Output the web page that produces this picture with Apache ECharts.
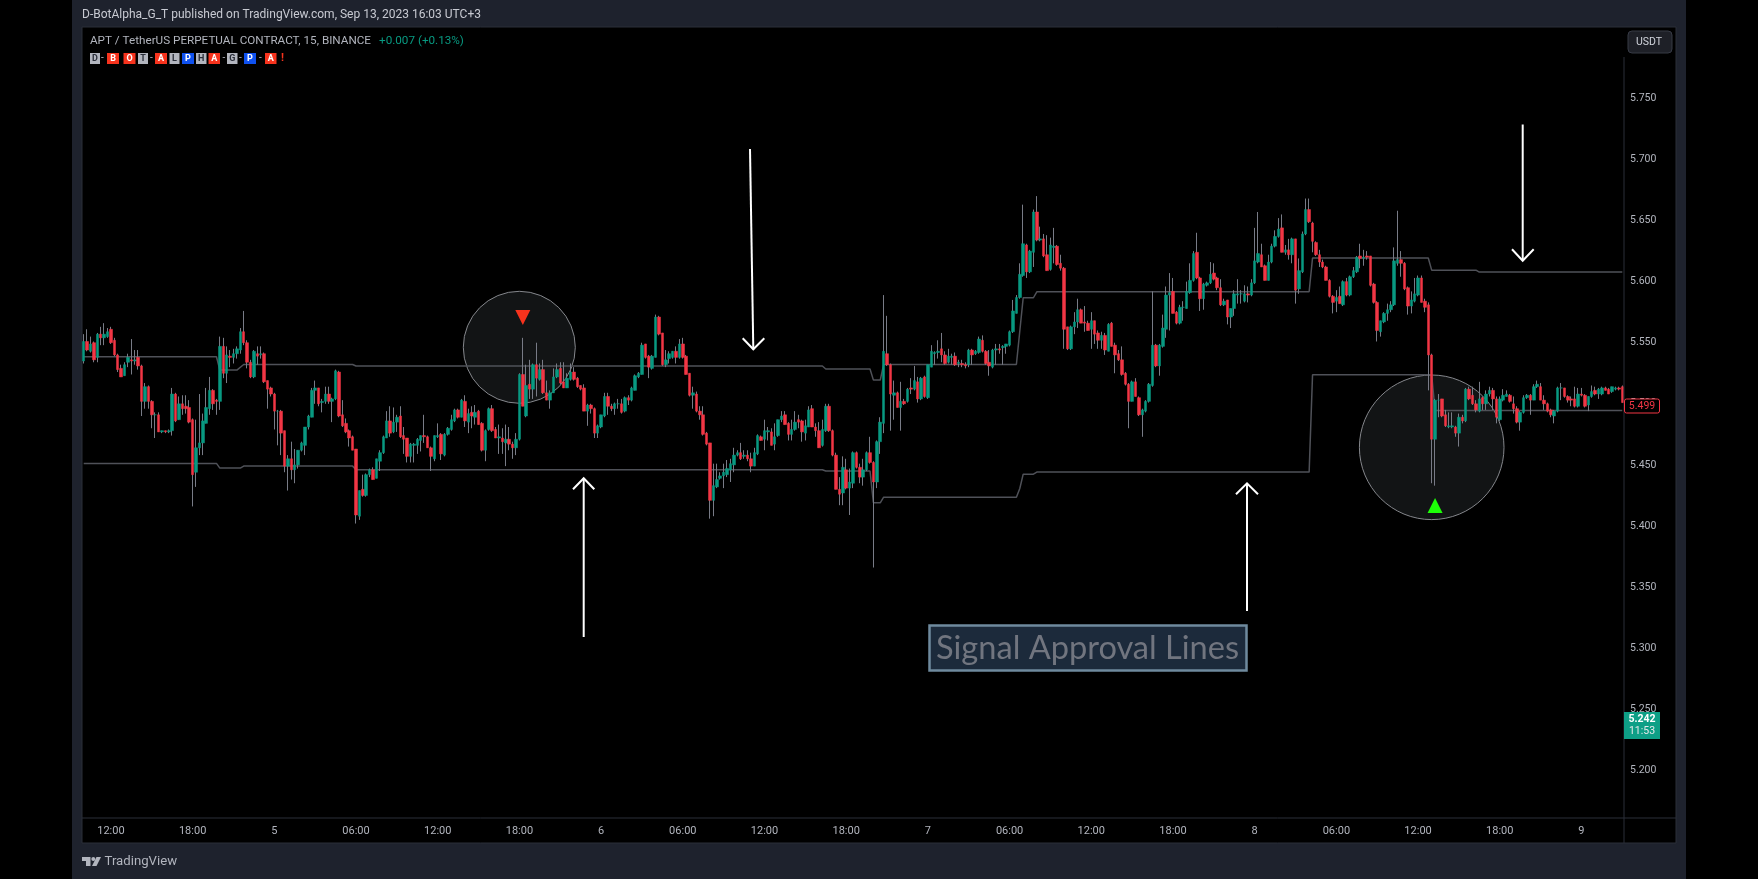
<!DOCTYPE html>
<html><head><meta charset="utf-8">
<style>html,body{margin:0;padding:0;background:#000;width:1758px;height:879px;overflow:hidden}#c{width:1758px;height:879px}</style>
<script src="https://cdn.jsdelivr.net/npm/echarts@6/dist/echarts.min.js"></script>
</head><body><div id="c"></div>
<script>
const direction="GRGRGRGGRR"+"RRGGRGRRGR"+"RGRGRGGRGR"+"RRRGGGGGRR"+"GRGRGGGRRR"+"GRGRRRRGRR"+"GRGGGGGGGR"+"GGRGGRRRRR"+"RGRGGRGGGG"+"RGGRRRGGGG"+
"RRRGGRGGGG"+"RGRGRGRRGG"+"RRGRGRRGGR"+"GRGRGRRGGG"+"RRGGRRRRGR"+"RGGGRRGGRG"+"RGGGGRRGGR"+"RGGGRGRRRG"+"RRRRRGGGGG"+"GGGRGRRGGR"+
"GGRGGGRRGG"+"RRGGRRRGGR"+"RRRGRGGRRG"+"GRRGGGRRGR"+"GRGRGRGRGG"+"GGRRGGRGRR"+"GRGGRRRGGR"+"GGGGGGGRGG"+"RGRRGGRRRR"+"GGGRRRGRRG"+
"RGRRRRRRGR"+"RGGGGRGGGG"+"RRGGGGGRRG"+"GGRRRGRGGG"+"RGRGGGRRGG"+"GGRGRGRGGG"+"RRRRRRRRGR"+"GRGGGRGRRR"+"RGGGGGGRRR"+"GGGRRRRGGR"+
"RGGRGRGRRR"+"GRGGRRGGGR"+"RRGGGRGGRR"+"RRGGGRRRRG"+"RRGGRGGRRG"+"GRR";
const bodyTop=[
5.551,5.551,5.549,5.550,5.557,5.557,5.557,5.559,5.561,5.552,
5.540,5.529,5.532,5.538,5.536,5.536,5.538,5.531,5.514,5.514,
5.502,5.491,5.491,5.478,5.478,5.478,5.508,5.508,5.500,5.500,
5.498,5.497,5.487,5.464,5.468,5.486,5.497,5.511,5.511,5.503,
5.547,5.547,5.540,5.539,5.541,5.545,5.559,5.559,5.550,5.534,
5.543,5.541,5.541,5.541,5.519,5.513,5.508,5.494,5.494,5.478,
5.455,5.455,5.450,5.462,5.468,5.481,5.490,5.511,5.513,5.513,
5.502,5.508,5.508,5.504,5.527,5.526,5.491,5.484,5.478,5.473,
5.463,5.429,5.430,5.442,5.446,5.446,5.455,5.460,5.473,5.486,
5.486,5.485,5.489,5.490,5.474,5.472,5.467,5.467,5.471,5.474,
5.474,5.473,5.464,5.474,5.474,5.475,5.475,5.480,5.487,5.495,
5.495,5.503,5.502,5.492,5.493,5.493,5.494,5.484,5.478,5.496,
5.496,5.479,5.473,5.472,5.471,5.471,5.467,5.471,5.524,5.524,
5.515,5.516,5.532,5.532,5.528,5.528,5.509,5.509,5.522,5.528,
5.529,5.518,5.521,5.526,5.526,5.521,5.515,5.513,5.499,5.499,
5.496,5.482,5.491,5.506,5.506,5.498,5.500,5.500,5.500,5.505,
5.505,5.513,5.523,5.525,5.548,5.549,5.539,5.539,5.571,5.571,
5.558,5.536,5.541,5.543,5.543,5.549,5.549,5.539,5.525,5.509,
5.508,5.494,5.491,5.476,5.468,5.433,5.438,5.441,5.444,5.447,
5.451,5.458,5.460,5.460,5.458,5.458,5.455,5.460,5.474,5.473,
5.478,5.478,5.477,5.473,5.487,5.490,5.491,5.484,5.479,5.485,
5.487,5.486,5.482,5.495,5.496,5.481,5.478,5.479,5.498,5.498,
5.478,5.458,5.430,5.448,5.446,5.436,5.460,5.460,5.448,5.446,
5.460,5.460,5.452,5.469,5.485,5.543,5.541,5.532,5.509,5.509,
5.502,5.502,5.512,5.513,5.519,5.518,5.521,5.522,5.532,5.543,
5.542,5.543,5.545,5.540,5.539,5.539,5.539,5.534,5.533,5.532,
5.544,5.544,5.543,5.553,5.552,5.543,5.534,5.544,5.545,5.545,
5.547,5.549,5.559,5.576,5.587,5.606,5.631,5.630,5.625,5.657,
5.657,5.635,5.635,5.622,5.630,5.629,5.629,5.615,5.611,5.563,
5.563,5.567,5.577,5.577,5.567,5.566,5.568,5.568,5.558,5.556,
5.556,5.565,5.566,5.548,5.541,5.536,5.525,5.516,5.518,5.518,
5.505,5.495,5.502,5.516,5.548,5.548,5.548,5.562,5.589,5.591,
5.592,5.575,5.579,5.579,5.592,5.601,5.623,5.624,5.603,5.598,
5.599,5.606,5.607,5.603,5.595,5.584,5.585,5.578,5.590,5.590,
5.590,5.590,5.590,5.599,5.617,5.623,5.622,5.613,5.616,5.629,
5.637,5.643,5.644,5.626,5.626,5.635,5.635,5.609,5.639,5.659,
5.659,5.648,5.632,5.622,5.616,5.612,5.601,5.588,5.587,5.588,
5.600,5.600,5.604,5.609,5.620,5.621,5.620,5.621,5.621,5.598,
5.583,5.568,5.574,5.577,5.581,5.617,5.618,5.618,5.615,5.595,
5.585,5.590,5.603,5.603,5.584,5.581,5.540,5.503,5.503,5.504,
5.491,5.482,5.482,5.481,5.489,5.489,5.512,5.512,5.507,5.500,
5.504,5.505,5.508,5.511,5.511,5.504,5.504,5.507,5.508,5.507,
5.500,5.496,5.493,5.505,5.507,5.507,5.514,5.516,5.514,5.503,
5.500,5.495,5.494,5.513,5.513,5.513,5.506,5.504,5.504,5.508,
5.508,5.507,5.506,5.510,5.511,5.512,5.513,5.513,5.512,5.514,
5.513,5.513,5.514];
const bodyBottom=[
5.535,5.544,5.543,5.536,5.538,5.554,5.554,5.555,5.550,5.540,
5.528,5.522,5.523,5.534,5.535,5.535,5.531,5.502,5.502,5.502,
5.491,5.491,5.477,5.477,5.477,5.477,5.478,5.486,5.487,5.496,
5.496,5.485,5.442,5.444,5.464,5.468,5.484,5.496,5.500,5.502,
5.502,5.525,5.525,5.538,5.538,5.541,5.544,5.550,5.534,5.522,
5.522,5.539,5.540,5.518,5.512,5.508,5.494,5.494,5.476,5.449,
5.449,5.446,5.446,5.450,5.462,5.466,5.481,5.489,5.511,5.500,
5.501,5.502,5.502,5.502,5.504,5.490,5.482,5.477,5.472,5.462,
5.409,5.408,5.425,5.425,5.442,5.438,5.439,5.453,5.460,5.472,
5.476,5.477,5.485,5.473,5.471,5.457,5.457,5.466,5.466,5.470,
5.473,5.464,5.457,5.455,5.473,5.459,5.458,5.475,5.479,5.486,
5.489,5.489,5.486,5.485,5.490,5.489,5.483,5.462,5.462,5.479,
5.478,5.472,5.472,5.469,5.468,5.467,5.464,5.464,5.471,5.498,
5.490,5.512,5.512,5.521,5.520,5.509,5.503,5.503,5.509,5.522,
5.517,5.513,5.513,5.520,5.520,5.514,5.512,5.494,5.494,5.496,
5.476,5.476,5.481,5.490,5.498,5.496,5.496,5.500,5.493,5.494,
5.503,5.503,5.511,5.522,5.524,5.538,5.530,5.529,5.538,5.557,
5.532,5.532,5.537,5.538,5.538,5.538,5.538,5.524,5.507,5.507,
5.494,5.491,5.475,5.467,5.421,5.421,5.432,5.439,5.441,5.442,
5.446,5.450,5.458,5.455,5.457,5.455,5.449,5.449,5.459,5.470,
5.471,5.477,5.466,5.467,5.474,5.487,5.483,5.475,5.475,5.479,
5.485,5.477,5.476,5.481,5.481,5.478,5.464,5.466,5.478,5.478,
5.458,5.430,5.426,5.427,5.431,5.431,5.435,5.448,5.440,5.440,
5.446,5.452,5.436,5.436,5.469,5.484,5.532,5.508,5.507,5.497,
5.497,5.500,5.502,5.512,5.512,5.504,5.504,5.506,5.505,5.530,
5.541,5.542,5.540,5.533,5.534,5.538,5.532,5.533,5.532,5.531,
5.532,5.540,5.541,5.542,5.543,5.533,5.531,5.530,5.544,5.544,
5.546,5.547,5.548,5.559,5.574,5.587,5.605,5.608,5.608,5.624,
5.634,5.634,5.621,5.609,5.610,5.628,5.614,5.611,5.561,5.545,
5.545,5.563,5.567,5.566,5.566,5.560,5.561,5.557,5.552,5.552,
5.544,5.543,5.547,5.540,5.536,5.524,5.516,5.502,5.502,5.506,
5.491,5.491,5.494,5.502,5.515,5.531,5.531,5.547,5.561,5.589,
5.574,5.566,5.566,5.579,5.578,5.591,5.601,5.603,5.586,5.586,
5.597,5.599,5.602,5.595,5.581,5.581,5.571,5.571,5.578,5.589,
5.590,5.584,5.589,5.589,5.599,5.616,5.612,5.601,5.601,5.616,
5.629,5.637,5.624,5.624,5.622,5.622,5.593,5.594,5.608,5.639,
5.649,5.633,5.622,5.616,5.612,5.601,5.588,5.583,5.584,5.582,
5.581,5.589,5.589,5.604,5.608,5.619,5.619,5.620,5.597,5.583,
5.560,5.559,5.567,5.574,5.577,5.581,5.615,5.615,5.594,5.580,
5.580,5.584,5.589,5.583,5.579,5.540,5.471,5.471,5.503,5.490,
5.482,5.481,5.481,5.476,5.476,5.486,5.486,5.504,5.500,5.495,
5.494,5.500,5.500,5.508,5.504,5.489,5.487,5.503,5.506,5.502,
5.496,5.485,5.485,5.493,5.505,5.503,5.503,5.514,5.503,5.500,
5.494,5.491,5.490,5.494,5.513,5.506,5.503,5.503,5.498,5.498,
5.507,5.498,5.499,5.506,5.508,5.508,5.508,5.511,5.508,5.510,
5.512,5.512,5.501];
const highs=[
5.557,5.561,5.555,5.551,5.558,5.563,5.566,5.562,5.563,5.554,
5.541,5.532,5.534,5.541,5.553,5.544,5.544,5.532,5.517,5.515,
5.503,5.493,5.493,5.478,5.478,5.479,5.513,5.509,5.506,5.507,
5.507,5.503,5.488,5.487,5.508,5.492,5.513,5.522,5.512,5.504,
5.555,5.554,5.547,5.544,5.545,5.547,5.562,5.576,5.552,5.536,
5.544,5.547,5.547,5.542,5.519,5.514,5.509,5.495,5.495,5.478,
5.458,5.469,5.463,5.462,5.469,5.481,5.491,5.513,5.519,5.513,
5.504,5.514,5.514,5.505,5.528,5.527,5.503,5.488,5.479,5.474,
5.463,5.429,5.442,5.443,5.447,5.448,5.455,5.462,5.474,5.494,
5.498,5.497,5.491,5.498,5.481,5.472,5.468,5.468,5.472,5.474,
5.491,5.474,5.465,5.474,5.484,5.476,5.476,5.481,5.491,5.496,
5.496,5.504,5.507,5.496,5.498,5.499,5.495,5.485,5.479,5.497,
5.499,5.481,5.483,5.480,5.483,5.481,5.469,5.476,5.525,5.554,
5.532,5.536,5.533,5.550,5.533,5.536,5.519,5.511,5.529,5.533,
5.534,5.534,5.525,5.533,5.530,5.522,5.515,5.516,5.500,5.500,
5.497,5.483,5.491,5.509,5.509,5.500,5.501,5.504,5.504,5.506,
5.507,5.514,5.524,5.526,5.550,5.549,5.540,5.540,5.573,5.572,
5.558,5.544,5.543,5.543,5.547,5.553,5.554,5.540,5.525,5.514,
5.510,5.498,5.498,5.477,5.468,5.451,5.451,5.444,5.451,5.454,
5.455,5.464,5.462,5.468,5.462,5.462,5.460,5.464,5.475,5.474,
5.487,5.481,5.480,5.484,5.487,5.494,5.494,5.485,5.487,5.494,
5.491,5.487,5.487,5.498,5.499,5.484,5.485,5.487,5.500,5.500,
5.479,5.460,5.440,5.457,5.455,5.447,5.461,5.461,5.451,5.455,
5.461,5.473,5.453,5.470,5.489,5.589,5.572,5.533,5.519,5.510,
5.518,5.504,5.513,5.521,5.531,5.522,5.522,5.523,5.532,5.548,
5.543,5.552,5.558,5.543,5.545,5.541,5.542,5.536,5.536,5.534,
5.545,5.545,5.544,5.555,5.556,5.544,5.544,5.545,5.549,5.549,
5.548,5.549,5.560,5.585,5.589,5.615,5.663,5.631,5.626,5.659,
5.670,5.645,5.639,5.638,5.636,5.644,5.630,5.622,5.612,5.563,
5.564,5.575,5.586,5.578,5.580,5.568,5.575,5.568,5.560,5.559,
5.558,5.566,5.567,5.550,5.544,5.547,5.526,5.517,5.519,5.521,
5.506,5.496,5.503,5.517,5.592,5.549,5.549,5.573,5.596,5.607,
5.603,5.576,5.581,5.584,5.600,5.615,5.625,5.640,5.604,5.599,
5.600,5.616,5.615,5.604,5.602,5.586,5.585,5.578,5.593,5.602,
5.593,5.597,5.596,5.602,5.644,5.657,5.631,5.614,5.622,5.631,
5.642,5.652,5.655,5.630,5.635,5.636,5.635,5.619,5.641,5.668,
5.668,5.649,5.633,5.626,5.618,5.613,5.602,5.589,5.593,5.596,
5.601,5.603,5.605,5.612,5.621,5.631,5.626,5.625,5.621,5.599,
5.584,5.568,5.575,5.582,5.584,5.628,5.658,5.625,5.616,5.596,
5.592,5.603,5.605,5.605,5.586,5.583,5.541,5.504,5.508,5.504,
5.495,5.493,5.493,5.482,5.492,5.491,5.513,5.514,5.514,5.503,
5.518,5.506,5.511,5.514,5.513,5.506,5.506,5.512,5.511,5.508,
5.506,5.498,5.494,5.507,5.508,5.508,5.516,5.519,5.517,5.507,
5.501,5.496,5.495,5.514,5.517,5.513,5.507,5.506,5.514,5.513,
5.513,5.508,5.506,5.515,5.514,5.513,5.514,5.514,5.513,5.514,
5.514,5.514,5.515];
const lows=[
5.533,5.543,5.542,5.534,5.534,5.548,5.548,5.554,5.549,5.539,
5.526,5.522,5.523,5.530,5.524,5.532,5.528,5.490,5.496,5.496,
5.480,5.472,5.477,5.476,5.476,5.476,5.474,5.485,5.487,5.491,
5.492,5.484,5.416,5.432,5.458,5.458,5.484,5.491,5.495,5.491,
5.495,5.521,5.517,5.530,5.533,5.537,5.541,5.548,5.529,5.521,
5.521,5.532,5.537,5.517,5.496,5.506,5.479,5.466,5.458,5.444,
5.429,5.438,5.435,5.447,5.461,5.458,5.479,5.489,5.500,5.498,
5.493,5.500,5.500,5.485,5.503,5.489,5.481,5.476,5.465,5.462,
5.402,5.405,5.424,5.424,5.440,5.438,5.439,5.445,5.459,5.472,
5.473,5.476,5.477,5.472,5.459,5.452,5.452,5.452,5.459,5.461,
5.468,5.464,5.445,5.453,5.472,5.454,5.457,5.474,5.478,5.485,
5.488,5.489,5.481,5.476,5.480,5.483,5.483,5.461,5.453,5.478,
5.477,5.472,5.459,5.459,5.449,5.462,5.455,5.458,5.470,5.498,
5.489,5.504,5.504,5.506,5.519,5.508,5.503,5.496,5.509,5.521,
5.516,5.513,5.513,5.519,5.519,5.513,5.511,5.494,5.482,5.492,
5.472,5.472,5.480,5.489,5.491,5.494,5.491,5.496,5.492,5.493,
5.499,5.502,5.511,5.521,5.524,5.537,5.521,5.528,5.538,5.556,
5.531,5.530,5.533,5.537,5.533,5.537,5.537,5.524,5.506,5.496,
5.493,5.487,5.474,5.466,5.406,5.408,5.431,5.438,5.431,5.440,
5.436,5.444,5.457,5.454,5.455,5.453,5.444,5.449,5.458,5.470,
5.462,5.470,5.466,5.462,5.473,5.485,5.483,5.470,5.470,5.478,
5.480,5.469,5.470,5.481,5.481,5.473,5.464,5.465,5.477,5.477,
5.457,5.430,5.417,5.417,5.430,5.409,5.431,5.447,5.435,5.433,
5.445,5.451,5.366,5.431,5.459,5.476,5.531,5.478,5.487,5.497,
5.478,5.499,5.501,5.508,5.511,5.501,5.503,5.505,5.504,5.530,
5.532,5.537,5.534,5.532,5.533,5.532,5.531,5.530,5.530,5.529,
5.530,5.532,5.540,5.541,5.542,5.532,5.523,5.529,5.532,5.541,
5.532,5.541,5.547,5.558,5.574,5.586,5.604,5.603,5.607,5.612,
5.633,5.633,5.620,5.609,5.609,5.615,5.613,5.609,5.545,5.544,
5.544,5.557,5.562,5.566,5.559,5.560,5.545,5.549,5.545,5.545,
5.540,5.543,5.547,5.525,5.535,5.523,5.515,5.480,5.502,5.506,
5.490,5.473,5.493,5.501,5.514,5.530,5.523,5.546,5.554,5.560,
5.574,5.565,5.565,5.568,5.578,5.590,5.600,5.602,5.576,5.577,
5.596,5.598,5.601,5.593,5.580,5.580,5.565,5.562,5.572,5.582,
5.582,5.583,5.583,5.588,5.598,5.615,5.612,5.601,5.601,5.615,
5.628,5.636,5.624,5.622,5.618,5.615,5.582,5.590,5.607,5.638,
5.648,5.624,5.621,5.612,5.611,5.601,5.587,5.574,5.575,5.582,
5.580,5.588,5.588,5.603,5.607,5.611,5.613,5.618,5.596,5.582,
5.551,5.555,5.566,5.568,5.575,5.580,5.613,5.604,5.593,5.573,
5.574,5.583,5.588,5.583,5.575,5.511,5.435,5.433,5.489,5.489,
5.481,5.480,5.480,5.473,5.465,5.484,5.485,5.503,5.499,5.493,
5.493,5.495,5.495,5.506,5.495,5.484,5.486,5.502,5.506,5.501,
5.492,5.484,5.478,5.492,5.504,5.491,5.503,5.513,5.503,5.495,
5.493,5.489,5.484,5.493,5.503,5.505,5.501,5.498,5.497,5.497,
5.506,5.497,5.494,5.505,5.507,5.504,5.507,5.511,5.508,5.509,
5.511,5.511,5.501];
const upperBarIndex=[0,39,40,45,47,79,80,217,218,231,232,234,235,274,276,279,280,360,361,395,396,409,410,452];
const upperValue=[5.5385,5.5385,5.5276,5.5276,5.5322,5.5322,5.5309,5.5309,5.5285,5.5285,5.5194,5.5194,5.5322,5.5322,5.5868,5.5868,5.5917,5.5917,5.6193,5.6193,5.6094,5.6094,5.6078,5.6078];
const lowerBarIndex=[0,39,40,46,47,79,80,217,218,231,232,234,235,274,275,276,279,280,360,361,396,397,452];
const lowerValue=[5.4512,5.4512,5.4474,5.4474,5.4490,5.4490,5.4460,5.4460,5.4450,5.4450,5.4190,5.4190,5.4236,5.4236,5.4307,5.4424,5.4424,5.4441,5.4441,5.5238,5.5238,5.4945,5.4945];
const sellSignal=[[129,5.5706]];
const buySignal=[[397,5.4167]];
const priceTicks=[5.2,5.25,5.3,5.35,5.4,5.45,5.5,5.55,5.6,5.65,5.7,5.75];
const timeTicks=['12:00','18:00','5','06:00','12:00','18:00','6','06:00','12:00','18:00','7','06:00','12:00','18:00','8','06:00','12:00','18:00','9'];
const categories=direction.split('').map((d,i)=>String(i));
const firstTick=8, tickStep=24;

const isGreen=i=>direction[i]==='G';
const openAt=i=>isGreen(i)?bodyBottom[i]:bodyTop[i];
const closeAt=i=>isGreen(i)?bodyTop[i]:bodyBottom[i];
const wickData=categories.map((c,i)=>[openAt(i),closeAt(i),lows[i],highs[i]]);
const bodyData=categories.map((c,i)=>[openAt(i),closeAt(i),bodyBottom[i],bodyTop[i]]);

const GREEN='#089981',RED='#f23645',WICK='#787b86',LINE='#4f5158',TXT='#b2b5be',BORDER='#2a2e39',PANEL='#1e222d';
const UI='Roboto, "Liberation Sans", sans-serif';
const rect=(x,y,w,h,fill,extra)=>Object.assign({type:'rect',shape:{x,y,width:w,height:h},style:{fill},silent:true},extra||{});
const text=(x,y,t,fill,font,extra)=>({type:'text',z:100,silent:true,style:Object.assign({text:t,x,y,fill,font,textVerticalAlign:'middle',verticalAlign:'middle'},extra||{})});
const seg=(x1,y1,x2,y2,stroke,lw,z)=>({type:'line',z:z,silent:true,shape:{x1,y1,x2,y2},style:{stroke,lineWidth:lw}});
const arrow=(x1,y1,tx,ty,wx1,wx2,wy)=>[seg(x1,y1,tx,ty,'#ffffff',2,100),
  {type:'polyline',z:100,silent:true,shape:{points:[[wx1,wy],[tx,ty],[wx2,wy]]},style:{stroke:'#ffffff',lineWidth:2,fill:'none'}}];
const circle=(cx,cy,r)=>({type:'circle',z:-1,silent:true,shape:{cx,cy,r},style:{fill:'#121415',stroke:'#85878c',lineWidth:1}});
const badge=(x,w,t,kind)=>{const c=kind==='r'?['#f7331d','#ffffff']:kind==='b'?['#0f51f0','#ffffff']:['#b2b5be','#2a2e39'];
  return [Object.assign(rect(x,53,w,11,c[0]),{z:100}),text(x+w/2,58.7,t,c[1],'bold 9px '+UI,{textAlign:'center'})];};

const elements=[
  rect(72,0,1614,879,PANEL,{z:-5}),
  rect(82,27,1594,816,'#000000',{z:-4,style:{fill:'#000000',stroke:BORDER,lineWidth:1}}),
  circle(519.3,347.3,56),circle(1431.7,447.3,72.3),
  seg(82,818,1676,818,BORDER,1,50),seg(1624,57,1624,843,BORDER,1,50),
  text(82,15,'D-BotAlpha_G_T published on TradingView.com, Sep 13, 2023 16:03 UTC+3','#c8cad2','12px '+UI),
  text(90,41.5,'APT / TetherUS PERPETUAL CONTRACT, 15, BINANCE',TXT,'11.7px '+UI),
  text(379,41.5,'+0.007 (+0.13%)',GREEN,'11.7px '+UI),
  ...badge(90,10,'D','g'),text(101,58.5,'-',TXT,'10px '+UI),
  ...badge(107,12,'B','r'),...badge(123.5,12,'O','r'),...badge(138,10,'T','g'),text(150,58.5,'-',TXT,'10px '+UI),
  ...badge(155,12,'A','r'),...badge(169.5,10,'L','g'),...badge(182,12,'P','b'),...badge(196,10.5,'H','g'),...badge(208.5,11.5,'A','r'),
  text(222.5,58.5,'-',TXT,'10px '+UI),...badge(227,10.5,'G','g'),text(239,58.5,'-',TXT,'10px '+UI),...badge(244,12,'P','b'),
  text(259,58.5,'-',TXT,'10px '+UI),...badge(265,11.5,'A','r'),text(281,58.5,'!','#f7331d','bold 11px '+UI),
  ...arrow(750,149,753.3,349.3,742.7,764.3,338.3),
  ...arrow(583.7,637,583.7,478.3,573,594.3,489.3),
  ...arrow(1247,611,1247,483.3,1236,1258,494.3),
  ...arrow(1522.7,124.5,1522.7,260.7,1512,1533.7,249.3),
  {type:'rect',z:100,silent:true,shape:{x:929.5,y:625.5,width:317,height:45},style:{fill:'#1c2a3b',stroke:'#6f8a9e',lineWidth:2.5}},
  text(936,648.5,'Signal Approval Lines','#71757f','32.6px Lato, sans-serif'),
  {type:'rect',z:100,silent:true,shape:{x:1624.5,y:399,width:35,height:14,r:2},style:{fill:'#000000',stroke:RED,lineWidth:1}},
  text(1642,406.5,'5.499',RED,'10.5px '+UI,{textAlign:'center'}),
  Object.assign(rect(1624,712,36,27,'#0e9f86'),{z:100}),
  text(1642,719.5,'5.242','#ffffff','bold 10.5px '+UI,{textAlign:'center'}),
  text(1642,731.5,'11:53','#e6e8ea','10.5px '+UI,{textAlign:'center'}),
  {type:'rect',z:100,silent:true,shape:{x:1628,y:31,width:44,height:22,r:4},style:{fill:'#1e2027',stroke:'#363a45',lineWidth:1}},
  text(1649,42.5,'USDT','#d1d4dc','10.5px '+UI,{textAlign:'center'}),
  {type:'polygon',z:100,silent:true,shape:{points:[[82,857],[90.5,857],[90.5,866],[86,866],[86,861],[82,861]]},style:{fill:TXT}},
  {type:'circle',z:100,silent:true,shape:{cx:93.3,cy:859,r:2},style:{fill:TXT}},
  {type:'polygon',z:100,silent:true,shape:{points:[[96.5,857],[101,857],[96.5,866],[92,866]]},style:{fill:TXT}},
  text(104.5,861.5,'TradingView',TXT,'13.2px '+UI),
];

const chart=echarts.init(document.getElementById('c'),null,{renderer:'canvas',width:1758,height:879});
const wickStyle={color:WICK,color0:WICK,borderColor:WICK,borderColor0:WICK,borderColorDoji:WICK,borderWidth:1};
chart.setOption({
  animation:false,
  backgroundColor:'#000000',
  grid:{left:82,right:134,top:27,bottom:61,containLabel:false},
  graphic:{elements},
  xAxis:{type:'category',data:categories,boundaryGap:true,
    axisLine:{show:false},axisTick:{show:false},splitLine:{show:false},
    axisLabel:{color:TXT,fontSize:11,fontFamily:UI,margin:8,hideOverlap:false,
      interval:i=>i>=firstTick&&(i-firstTick)%tickStep===0,
      formatter:(v,i)=>timeTicks[(i-firstTick)/tickStep]||''}},
  yAxis:{type:'value',position:'right',min:5.161,max:5.8084,scale:true,
    axisLine:{show:false},axisTick:{show:false},splitLine:{show:false},
    axisLabel:{color:TXT,fontSize:10.5,fontFamily:UI,margin:6,padding:[2,0,0,0],customValues:priceTicks,formatter:v=>v.toFixed(3)}},
  series:[
    {name:'Upper approval line',type:'line',z:2,silent:true,symbol:'none',lineStyle:{color:LINE,width:1.5},
      data:upperBarIndex.map((x,i)=>[x,upperValue[i]])},
    {name:'Lower approval line',type:'line',z:2,silent:true,symbol:'none',lineStyle:{color:LINE,width:1.5},
      data:lowerBarIndex.map((x,i)=>[x,lowerValue[i]])},
    {name:'Wicks',type:'candlestick',z:3,silent:true,large:false,barWidth:1,itemStyle:wickStyle,data:wickData},
    {name:'APT/USDT',type:'candlestick',z:4,silent:true,large:false,barWidth:3,
      itemStyle:{color:GREEN,color0:RED,borderColor:GREEN,borderColor0:RED,borderWidth:0.5},data:bodyData},
    {name:'Sell',type:'scatter',z:6,silent:true,symbol:'triangle',symbolRotate:180,symbolSize:[15,15],itemStyle:{color:'#f7331d',opacity:1},data:sellSignal},
    {name:'Buy',type:'scatter',z:6,silent:true,symbol:'triangle',symbolSize:[15,15],itemStyle:{color:'#1dff07',opacity:1},data:buySignal},
  ]
});
</script></body></html>
